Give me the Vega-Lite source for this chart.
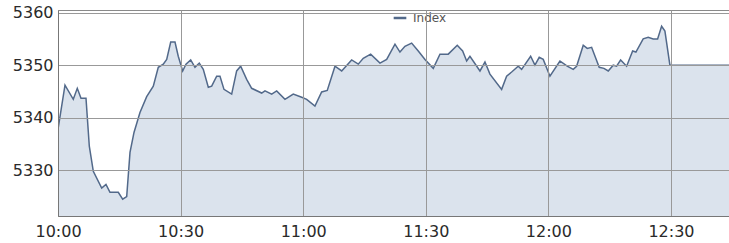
{
  "$schema": "https://vega.github.io/schema/vega-lite/v6.json",
  "autosize": "none",
  "width": 671,
  "height": 206,
  "padding": {"left": 58, "top": 10, "right": 0, "bottom": 27},
  "background": "white",
  "config": {
    "view": {"stroke": "#8a8a8a", "strokeWidth": 1},
    "font": "DejaVu Sans"
  },
  "data": {
    "values": [
      {"min": 0, "v": 5337.8, "s": "Index"},
      {"min": 1.71, "v": 5346.2, "s": "Index"},
      {"min": 3.74, "v": 5343.5, "s": "Index"},
      {"min": 4.72, "v": 5345.6, "s": "Index"},
      {"min": 5.63, "v": 5343.7, "s": "Index"},
      {"min": 6.85, "v": 5343.7, "s": "Index"},
      {"min": 7.66, "v": 5334.6, "s": "Index"},
      {"min": 8.64, "v": 5329.8, "s": "Index"},
      {"min": 10.69, "v": 5326.6, "s": "Index"},
      {"min": 11.74, "v": 5327.3, "s": "Index"},
      {"min": 12.72, "v": 5325.8, "s": "Index"},
      {"min": 14.75, "v": 5325.8, "s": "Index"},
      {"min": 15.83, "v": 5324.5, "s": "Index"},
      {"min": 16.81, "v": 5325.0, "s": "Index"},
      {"min": 17.62, "v": 5333.4, "s": "Index"},
      {"min": 18.6, "v": 5337.2, "s": "Index"},
      {"min": 20.06, "v": 5341.0, "s": "Index"},
      {"min": 21.7, "v": 5344.0, "s": "Index"},
      {"min": 23.32, "v": 5346.0, "s": "Index"},
      {"min": 24.54, "v": 5349.6, "s": "Index"},
      {"min": 25.76, "v": 5350.2, "s": "Index"},
      {"min": 26.6, "v": 5351.1, "s": "Index"},
      {"min": 27.58, "v": 5354.4, "s": "Index"},
      {"min": 28.63, "v": 5354.4, "s": "Index"},
      {"min": 29.43, "v": 5351.7, "s": "Index"},
      {"min": 30.51, "v": 5348.9, "s": "Index"},
      {"min": 31.32, "v": 5350.2, "s": "Index"},
      {"min": 32.47, "v": 5351.0, "s": "Index"},
      {"min": 33.52, "v": 5349.6, "s": "Index"},
      {"min": 34.57, "v": 5350.4, "s": "Index"},
      {"min": 35.55, "v": 5349.2, "s": "Index"},
      {"min": 36.78, "v": 5345.8, "s": "Index"},
      {"min": 37.61, "v": 5346.0, "s": "Index"},
      {"min": 38.83, "v": 5347.9, "s": "Index"},
      {"min": 39.64, "v": 5347.9, "s": "Index"},
      {"min": 40.62, "v": 5345.4, "s": "Index"},
      {"min": 42.5, "v": 5344.5, "s": "Index"},
      {"min": 43.72, "v": 5348.9, "s": "Index"},
      {"min": 44.7, "v": 5349.8, "s": "Index"},
      {"min": 46.17, "v": 5347.3, "s": "Index"},
      {"min": 47.39, "v": 5345.6, "s": "Index"},
      {"min": 49.84, "v": 5344.7, "s": "Index"},
      {"min": 50.65, "v": 5345.1, "s": "Index"},
      {"min": 52.29, "v": 5344.5, "s": "Index"},
      {"min": 53.51, "v": 5345.1, "s": "Index"},
      {"min": 55.54, "v": 5343.5, "s": "Index"},
      {"min": 57.57, "v": 5344.5, "s": "Index"},
      {"min": 59.63, "v": 5343.9, "s": "Index"},
      {"min": 60.85, "v": 5343.5, "s": "Index"},
      {"min": 62.88, "v": 5342.2, "s": "Index"},
      {"min": 64.52, "v": 5344.9, "s": "Index"},
      {"min": 65.89, "v": 5345.2, "s": "Index"},
      {"min": 67.78, "v": 5349.8, "s": "Index"},
      {"min": 69.42, "v": 5348.9, "s": "Index"},
      {"min": 71.86, "v": 5351.0, "s": "Index"},
      {"min": 73.48, "v": 5350.2, "s": "Index"},
      {"min": 74.7, "v": 5351.3, "s": "Index"},
      {"min": 76.51, "v": 5352.1, "s": "Index"},
      {"min": 78.79, "v": 5350.4, "s": "Index"},
      {"min": 80.43, "v": 5351.1, "s": "Index"},
      {"min": 82.46, "v": 5354.0, "s": "Index"},
      {"min": 83.68, "v": 5352.5, "s": "Index"},
      {"min": 84.9, "v": 5353.6, "s": "Index"},
      {"min": 86.54, "v": 5354.2, "s": "Index"},
      {"min": 88.16, "v": 5352.7, "s": "Index"},
      {"min": 89.8, "v": 5351.1, "s": "Index"},
      {"min": 91.83, "v": 5349.4, "s": "Index"},
      {"min": 93.47, "v": 5352.1, "s": "Index"},
      {"min": 95.5, "v": 5352.1, "s": "Index"},
      {"min": 97.7, "v": 5353.8, "s": "Index"},
      {"min": 99.02, "v": 5352.7, "s": "Index"},
      {"min": 100.0, "v": 5350.8, "s": "Index"},
      {"min": 100.81, "v": 5351.7, "s": "Index"},
      {"min": 103.26, "v": 5348.9, "s": "Index"},
      {"min": 104.48, "v": 5350.6, "s": "Index"},
      {"min": 105.7, "v": 5348.3, "s": "Index"},
      {"min": 108.56, "v": 5345.4, "s": "Index"},
      {"min": 109.78, "v": 5347.9, "s": "Index"},
      {"min": 111.01, "v": 5348.7, "s": "Index"},
      {"min": 112.62, "v": 5349.8, "s": "Index"},
      {"min": 113.45, "v": 5349.2, "s": "Index"},
      {"min": 115.66, "v": 5351.7, "s": "Index"},
      {"min": 116.71, "v": 5350.0, "s": "Index"},
      {"min": 117.76, "v": 5351.5, "s": "Index"},
      {"min": 118.74, "v": 5351.1, "s": "Index"},
      {"min": 120.38, "v": 5347.9, "s": "Index"},
      {"min": 122.83, "v": 5350.8, "s": "Index"},
      {"min": 124.61, "v": 5349.8, "s": "Index"},
      {"min": 126.08, "v": 5349.2, "s": "Index"},
      {"min": 126.91, "v": 5349.8, "s": "Index"},
      {"min": 128.53, "v": 5353.8, "s": "Index"},
      {"min": 129.51, "v": 5353.2, "s": "Index"},
      {"min": 130.58, "v": 5353.4, "s": "Index"},
      {"min": 132.44, "v": 5349.6, "s": "Index"},
      {"min": 133.59, "v": 5349.4, "s": "Index"},
      {"min": 134.65, "v": 5348.9, "s": "Index"},
      {"min": 135.87, "v": 5350.0, "s": "Index"},
      {"min": 136.7, "v": 5349.8, "s": "Index"},
      {"min": 137.68, "v": 5351.0, "s": "Index"},
      {"min": 139.15, "v": 5349.8, "s": "Index"},
      {"min": 140.62, "v": 5352.7, "s": "Index"},
      {"min": 141.42, "v": 5352.5, "s": "Index"},
      {"min": 143.2, "v": 5355.0, "s": "Index"},
      {"min": 144.43, "v": 5355.3, "s": "Index"},
      {"min": 145.65, "v": 5355.0, "s": "Index"},
      {"min": 146.73, "v": 5355.0, "s": "Index"},
      {"min": 147.71, "v": 5357.4, "s": "Index"},
      {"min": 148.52, "v": 5356.5, "s": "Index"},
      {"min": 149.74, "v": 5350.0, "s": "Index"},
      {"min": 164.2, "v": 5350.0, "s": "Index"}
    ]
  },
  "encoding": {
    "x": {
      "field": "min",
      "type": "quantitative",
      "scale": {"domain": [0, 164.2], "zero": false, "nice": false},
      "axis": {
        "title": null,
        "values": [0, 30, 60, 90, 120, 150],
        "labelExpr": "timeFormat(datetime(2020, 0, 1, 10, datum.value), '%H:%M')",
        "ticks": false,
        "zindex": 1,
        "labelPadding": 7,
        "labelFont": "DejaVu Sans",
        "labelFontSize": 16,
        "labelColor": "#2a2a2a",
        "labelFlush": false,
        "labelOverlap": false,
        "domainColor": "#777777",
        "gridColor": "#999999",
        "gridOpacity": 1,
        "grid": true
      }
    },
    "y": {
      "field": "v",
      "type": "quantitative",
      "scale": {"domain": [5321.3, 5360.5], "zero": false, "nice": false},
      "axis": {
        "title": null,
        "values": [5330, 5340, 5350, 5360],
        "format": "d",
        "ticks": false,
        "zindex": 1,
        "labelPadding": 5,
        "labelFont": "DejaVu Sans",
        "labelFontSize": 16,
        "labelColor": "#2a2a2a",
        "labelFlush": false,
        "labelOverlap": false,
        "domainColor": "#777777",
        "gridColor": "#999999",
        "gridOpacity": 1,
        "grid": true
      }
    }
  },
  "layer": [
    {
      "mark": {"type": "area", "color": "#dbe3ed", "opacity": 1, "clip": true}
    },
    {
      "mark": {"type": "line", "strokeWidth": 1.5, "clip": true},
      "encoding": {
        "color": {
          "field": "s",
          "type": "nominal",
          "scale": {"range": ["#52698a"]},
          "legend": {
            "title": null,
            "orient": "none",
            "legendX": 334,
            "legendY": 0,
            "padding": 0,
            "symbolType": "stroke",
            "symbolSize": 160,
            "symbolStrokeWidth": 2.5,
            "labelFont": "DejaVu Sans",
            "labelFontSize": 12,
            "labelColor": "#555555",
            "labelOffset": 5
          }
        }
      }
    }
  ]
}
